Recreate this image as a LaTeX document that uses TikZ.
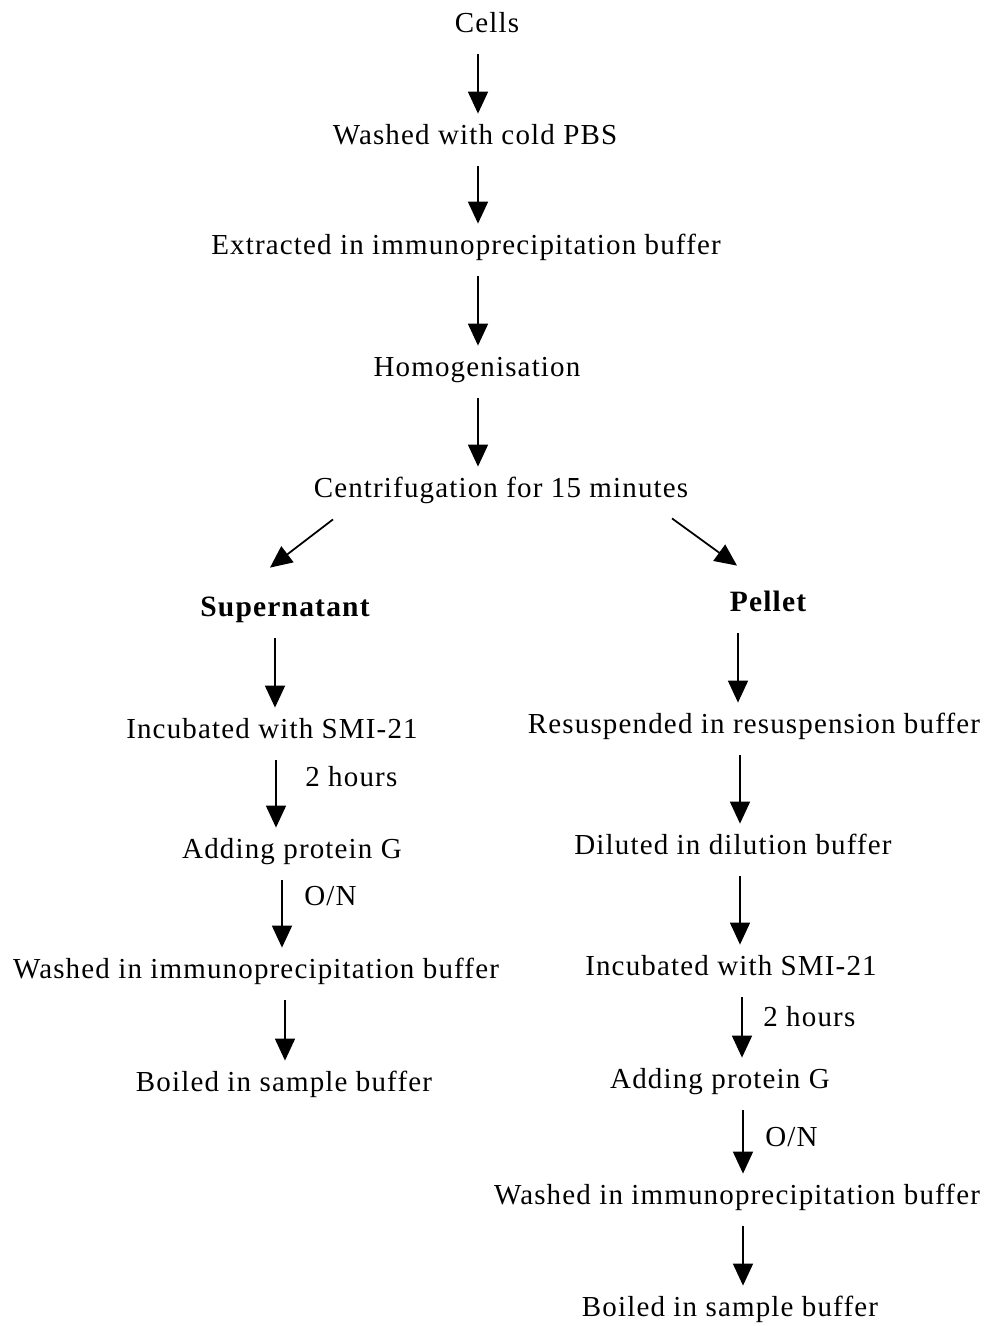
\documentclass[tikz,border=0pt]{standalone}
\usepackage{fontspec}
\setmainfont{Liberation Serif}[LetterSpace=4]
\usepackage{tikz}
\usetikzlibrary{arrows.meta}
\tikzset{>={Triangle[length=0.44cm,width=0.4cm]},
  stepbox/.style={inner sep=0pt,text height=12pt,text depth=4pt,
    font=\fontsize{16.5}{19}\selectfont},
  branch/.style={stepbox,font=\fontsize{16.8}{19}\selectfont\bfseries},
  lbl/.style={inner sep=0pt,anchor=west,font=\fontsize{16.5}{19}\selectfont},
  flow/.style={->,line width=1pt,shorten <=0.3cm,shorten >=0.18cm}}
\begin{document}
\begin{tikzpicture}[x=0.02cm,y=-0.02cm]
    \useasboundingbox (0,0) rectangle (991,1326);

    % main line
    \node[stepbox] (cells)   at (487,25)  {Cells};
    \node[stepbox] (wash)    at (475,137) {Washed with cold PBS};
    \node[stepbox] (extract) at (466,247) {Extracted in immunoprecipitation buffer};
    \node[stepbox] (homog)   at (477,369) {Homogenisation};
    \node[stepbox] (centri)  at (501,490) {Centrifugation for 15 minutes};
    \draw[flow] (cells.south -| 478,0) -- (wash.north -| 478,0);
    \draw[flow] (wash.south -| 478,0) -- (extract.north -| 478,0);
    \draw[flow] (extract.south -| 478,0) -- (homog.north -| 478,0);
    \draw[flow] (homog.south -| 478,0) -- (centri.north -| 478,0);

    \node[branch] (super)  at (285,609) {Supernatant};
    \node[branch] (pellet) at (768,604) {Pellet};
    \draw[->,line width=1pt] ([shift={(-168,15)}]centri.south) -- ([shift={(-15,-27)}]super.north);
    \draw[->,line width=1pt] ([shift={(171,14)}]centri.south) -- ([shift={(-31,-24)}]pellet.north);

    % supernatant
    \node[stepbox] (incA)  at (272,731)  {Incubated with SMI-21};
    \node[stepbox] (addA)  at (292,851)  {Adding protein G};
    \node[stepbox] (washA) at (256,971)  {Washed in immunoprecipitation buffer};
    \node[stepbox] (boilA) at (284,1084) {Boiled in sample buffer};
    \draw[flow] (super.south -| 275,0) -- (incA.north -| 275,0);
    \draw[flow] (incA.south -| 276,0) -- (addA.north -| 276,0);
    \draw[flow] (addA.south -| 282,0) -- (washA.north -| 282,0);
    \draw[flow] (washA.south -| 285,0) -- (boilA.north -| 285,0);
    \node[lbl] (hrsA) at (305,777) {2 hours};
    \node[lbl] (onA)  at (304,896) {O/N};

    % pellet
    \node[stepbox] (resus) at (754,726)  {Resuspended in resuspension buffer};
    \node[stepbox] (dilut) at (733,847)  {Diluted in dilution buffer};
    \node[stepbox] (incB)  at (731,968)  {Incubated with SMI-21};
    \node[stepbox] (addB)  at (720,1081) {Adding protein G};
    \node[stepbox] (washB) at (737,1197) {Washed in immunoprecipitation buffer};
    \node[stepbox] (boilB) at (730,1309) {Boiled in sample buffer};
    \draw[flow] (pellet.south -| 738,0) -- (resus.north -| 738,0);
    \draw[flow] (resus.south -| 740,0) -- (dilut.north -| 740,0);
    \draw[flow] (dilut.south -| 740,0) -- (incB.north -| 740,0);
    \draw[flow] (incB.south -| 742,0) -- (addB.north -| 742,0);
    \draw[flow] (addB.south -| 743,0) -- (washB.north -| 743,0);
    \draw[flow] (washB.south -| 743,0) -- (boilB.north -| 743,0);
    \node[lbl] (hrsB) at (763,1017) {2 hours};
    \node[lbl] (onB)  at (765,1137) {O/N};
\end{tikzpicture}
\end{document}
